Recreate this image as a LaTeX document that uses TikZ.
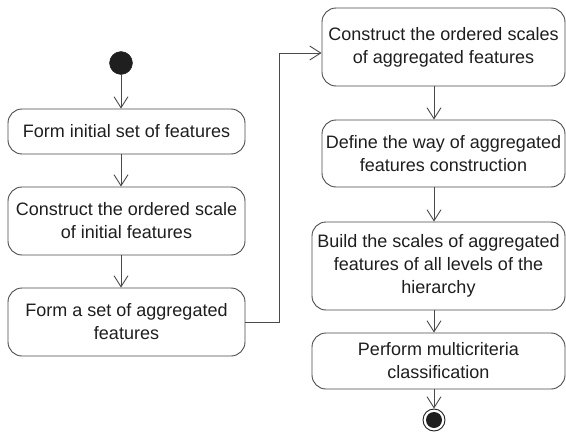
\documentclass[tikz,border=0pt]{standalone}
\usepackage{fontspec}
\setmainfont{Liberation Sans}
\usetikzlibrary{arrows.meta}
\definecolor{ln}{HTML}{4A4A4A}
\definecolor{tx}{HTML}{1E1E1E}
\tikzset{
  act/.style={draw=ln, line width=0.9pt, rounded corners=14pt, align=center,
    inner sep=0pt, text=tx, font=\fontsize{18pt}{23pt}\selectfont},
  flow/.style={draw=ln, line width=0.9pt, -{Straight Barb[length=11pt,width=14pt,line width=0.9pt]}}
}
\begin{document}
\begin{tikzpicture}[x=1pt,y=-1pt]
\useasboundingbox (0,0) rectangle (566,434);
\node[circle, fill=black!88, draw=black!88, minimum size=23pt, inner sep=0pt] (start) at (121,63) {};
\node[act, minimum width=237pt, minimum height=45pt] (b1) at (126.5,131.5) {Form initial set of features};
\node[act, minimum width=237pt, minimum height=68pt] (b2) at (126.5,221) {Construct the ordered scale\\of initial features};
\node[act, minimum width=237pt, minimum height=68pt] (b3) at (126.5,322) {Form a set of aggregated\\features};
\node[act, minimum width=243pt, minimum height=78pt] (b4) at (443.5,47) {Construct the ordered scales\\of aggregated features};
\node[act, minimum width=243pt, minimum height=67pt] (b5) at (443.5,153.5) {Define the way of aggregated\\features construction};
\node[act, minimum width=253pt, minimum height=88pt] (b6) at (438.5,266) {Build the scales of aggregated\\features of all levels of the\\hierarchy};
\node[act, minimum width=253pt, minimum height=56pt] (b7) at (438.5,361) {Perform multicriteria\\classification};
\node[circle, draw=black!88, line width=0.9pt, minimum size=22pt, inner sep=0pt] (end) at (434,420) {};
\fill[black!88] (end.center) circle (8pt);
\coordinate (turn) at (279,322);
\draw[flow] (start) -- (start |- b1.north);
\draw[flow] (start |- b1.south) -- (start |- b2.north);
\draw[flow] (start |- b2.south) -- (start |- b3.north);
\draw[flow] (b3.east |- turn) -- (turn) -- (279,53) -- (b4.west |- 0,53);
\draw[flow] (end |- b4.south) -- (end |- b5.north);
\draw[flow] (end |- b5.south) -- (end |- b6.north);
\draw[flow] (end |- b6.south) -- (end |- b7.north);
\draw[flow] (end |- b7.south) -- (end.north);
\end{tikzpicture}
\end{document}
